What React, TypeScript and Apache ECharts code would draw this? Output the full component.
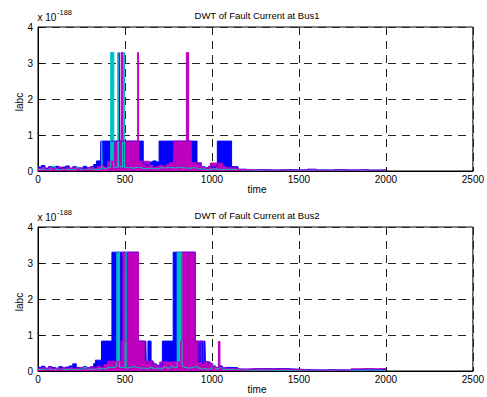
import React, { useEffect, useRef } from "react";
import * as echarts from "echarts";

// Noise samples (units of 1e-188): near arrays every 20 s from 0 to 1100, far arrays every 50 s from 1150 to 2000
const NEAR_STEP = 20;
const FAR_START = 1150;
const FAR_STEP = 50;

const bus1BlueNear = [
  0.11, 0.15, 0.08, 0.12, 0.09, 0.13, 0.07, 0.11, 0.14, 0.08,
  0.12, 0.1, 0.07, 0.13, 0.09, 0.12, 0.18, 0.22, 0.3, 0.28,
  0.32, 0.3, 0.26, 0.3, 0.28, 0.32, 0.3, 0.27, 0.3, 0.25,
  0.2, 0.16, 0.22, 0.28, 0.24, 0.3, 0.26, 0.3, 0.28, 0.3,
  0.25, 0.3, 0.28, 0.26, 0.3, 0.22, 0.17, 0.12, 0.09, 0.13,
  0.1, 0.14, 0.18, 0.2, 0.17, 0.12,
];
const bus1BlueFar = [0.05, 0.03, 0.04, 0.03, 0.02, 0.04, 0.03, 0.03, 0.05, 0.03, 0.02, 0.04, 0.03, 0.03, 0.04, 0.02, 0.03, 0.03];
const bus1TealNear = [
  0.05, 0.06, 0.04, 0.05, 0.12, 0.04, 0.05, 0.06, 0.04, 0.05,
  0.04, 0.1, 0.05, 0.04, 0.06, 0.05, 0.04, 0.05, 0.08, 0.06,
  0.1, 0.08, 0.1, 0.12, 0.1, 0.09, 0.1, 0.08, 0.1, 0.09,
  0.07, 0.06, 0.08, 0.06, 0.07, 0.09, 0.08, 0.1, 0.09, 0.08,
  0.1, 0.09, 0.08, 0.07, 0.09, 0.08, 0.06, 0.05, 0.04, 0.05,
  0.06, 0.05, 0.04, 0.05, 0.04, 0.04,
];
const bus1TealFar = [0.03, 0.02, 0.02, 0.02, 0.03, 0.02, 0.02, 0.02, 0.02, 0.03, 0.02, 0.02, 0.02, 0.02, 0.02, 0.03, 0.02, 0.02];
const bus1MagentaNear = [
  0.07, 0.1, 0.05, 0.09, 0.06, 0.08, 0.11, 0.05, 0.09, 0.07,
  0.1, 0.06, 0.09, 0.05, 0.08, 0.1, 0.07, 0.12, 0.15, 0.1,
  0.2, 0.18, 0.22, 0.2, 0.24, 0.2, 0.18, 0.22, 0.2, 0.16,
  0.14, 0.12, 0.16, 0.1, 0.13, 0.15, 0.12, 0.18, 0.2, 0.17,
  0.2, 0.18, 0.2, 0.16, 0.2, 0.18, 0.14, 0.1, 0.08, 0.12,
  0.15, 0.13, 0.16, 0.12, 0.09, 0.08,
];
const bus1MagentaFar = [0.04, 0.03, 0.03, 0.02, 0.03, 0.03, 0.02, 0.03, 0.04, 0.02, 0.03, 0.03, 0.02, 0.03, 0.03, 0.02, 0.03, 0.02];

const bus2BlueNear = [
  0.1, 0.13, 0.08, 0.12, 0.1, 0.07, 0.12, 0.09, 0.11, 0.14,
  0.2, 0.1, 0.07, 0.12, 0.09, 0.11, 0.2, 0.24, 0.28, 0.3,
  0.3, 0.28, 0.3, 0.26, 0.3, 0.3, 0.28, 0.3, 0.3, 0.26,
  0.22, 0.25, 0.28, 0.2, 0.16, 0.14, 0.12, 0.3, 0.28, 0.3,
  0.3, 0.28, 0.3, 0.26, 0.3, 0.28, 0.25, 0.2, 0.26, 0.22,
  0.12, 0.1, 0.14, 0.08, 0.1, 0.09,
];
const bus2BlueFar = [0.05, 0.06, 0.07, 0.06, 0.07, 0.06, 0.05, 0.04, 0.03, 0.03, 0.04, 0.03, 0.03, 0.04, 0.05, 0.04, 0.03, 0.03];
const bus2TealNear = [
  0.05, 0.04, 0.06, 0.05, 0.04, 0.06, 0.05, 0.04, 0.05, 0.06,
  0.04, 0.05, 0.06, 0.1, 0.05, 0.04, 0.06, 0.05, 0.08, 0.06,
  0.1, 0.1, 0.12, 0.1, 0.1, 0.08, 0.1, 0.12, 0.1, 0.08,
  0.08, 0.06, 0.1, 0.06, 0.08, 0.06, 0.1, 0.08, 0.12, 0.1,
  0.1, 0.12, 0.1, 0.08, 0.1, 0.12, 0.08, 0.06, 0.05, 0.06,
  0.16, 0.06, 0.1, 0.05, 0.04, 0.04,
];
const bus2TealFar = [0.03, 0.02, 0.03, 0.02, 0.02, 0.02, 0.03, 0.02, 0.02, 0.02, 0.02, 0.03, 0.02, 0.02, 0.03, 0.02, 0.02, 0.02];
const bus2MagentaNear = [
  0.07, 0.09, 0.05, 0.1, 0.06, 0.08, 0.05, 0.1, 0.07, 0.09,
  0.06, 0.08, 0.1, 0.05, 0.09, 0.12, 0.08, 0.14, 0.1, 0.18,
  0.22, 0.2, 0.24, 0.2, 0.22, 0.2, 0.18, 0.22, 0.2, 0.24,
  0.2, 0.16, 0.22, 0.18, 0.12, 0.1, 0.14, 0.2, 0.18, 0.22,
  0.2, 0.24, 0.2, 0.22, 0.2, 0.18, 0.2, 0.22, 0.16, 0.14,
  0.12, 0.1, 0.08, 0.1, 0.07, 0.06,
];
const bus2MagentaFar = [0.05, 0.06, 0.06, 0.05, 0.06, 0.05, 0.04, 0.03, 0.03, 0.02, 0.03, 0.03, 0.03, 0.06, 0.07, 0.06, 0.07, 0.06];

// Burst blocks: [start time, end time, level (x1e-188)]
const bus1BlueBlocks = [
  [336, 361, 0.28], [361, 605, 0.83], [466, 470, 3.29], [640, 696, 0.25],
  [696, 914, 0.83], [914, 940, 0.2], [1031, 1113, 0.83],
];
const bus1TealBlocks = [
  [366, 369, 0.83], [418, 436, 3.29], [459, 463, 3.29], [486, 497, 3.29],
];
const bus1MagentaBlocks = [
  [400, 640, 0.27], [444, 577, 0.83], [478, 486, 3.29], [573, 578, 3.29],
  [757, 940, 0.23], [781, 882, 0.83], [853, 866, 3.29], [990, 1060, 0.22],
];

const bus2BlueBlocks = [
  [330, 365, 0.3], [365, 622, 0.83], [632, 650, 0.83], [425, 578, 3.3],
  [650, 715, 0.15], [715, 925, 0.83], [932, 945, 0.83], [952, 962, 0.83],
  [777, 905, 3.3],
];
const bus2TealBlocks = [
  [453, 469, 3.3], [501, 507, 3.3], [800, 828, 3.3], [1000, 1010, 0.15], [1025, 1032, 0.1],
];
const bus2MagentaBlocks = [
  [400, 665, 0.27], [478, 611, 0.83], [488, 500, 3.3], [516, 578, 3.3],
  [700, 990, 0.25], [820, 952, 0.83], [828, 905, 3.3], [990, 1005, 0.2], [1037, 1046, 0.82],
];

const xTicks = [0, 500, 1000, 1500, 2000, 2500];
const yTicks = [0, 1, 2, 3, 4];

const BLUE = "#0000ff";
const TEAL = "#00bfbf";
const MAGENTA = "#bf00bf";
const FONT = "'Liberation Sans', Arial, Helvetica, sans-serif";

function buildSignal(near: number[], far: number[], blocks: number[][]): number[][] {
  const times = new Set<number>();
  near.forEach((_, i) => times.add(i * NEAR_STEP));
  far.forEach((_, i) => times.add(FAR_START + i * FAR_STEP));
  blocks.forEach(([a, b]) => {
    times.add(a);
    times.add(b);
  });
  const sorted = Array.from(times).sort((a, b) => a - b);
  const baseAt = (t: number) => {
    if (t < FAR_START) return near[Math.min(near.length - 1, Math.floor(t / NEAR_STEP))];
    return far[Math.min(far.length - 1, Math.floor((t - FAR_START) / FAR_STEP))];
  };
  return sorted.map((t) => {
    let v = baseAt(t);
    blocks.forEach(([a, b, lv]) => {
      if (t >= a && t < b && lv > v) v = lv;
    });
    return [t, v];
  });
}

function makeSeries(data: number[][], color: string, idx: number) {
  return {
    type: "line",
    xAxisIndex: idx,
    yAxisIndex: idx,
    step: "end",
    symbol: "none",
    silent: true,
    data,
    lineStyle: { color, width: 1 },
    areaStyle: { color, opacity: 1 },
  };
}

function axisCommon(gridIndex: number) {
  return {
    gridIndex,
    axisLine: { lineStyle: { color: "#000", width: 1 } },
    axisTick: { inside: true, length: 4, lineStyle: { color: "#000" } },
    splitLine: { show: true, lineStyle: { color: "#222", width: 1, type: [8, 6] } },
  };
}

export default function App() {
  const ref = useRef<HTMLDivElement>(null);
  useEffect(() => {
    if (!ref.current) return;
    const chart = echarts.init(ref.current, undefined, { renderer: "svg" });
    const titles = ["DWT of Fault Current at Bus1", "DWT of Fault Current at Bus2"];
    const offsets = [0, 200];
    const graphic: any[] = [];
    offsets.forEach((dy, i) => {
      graphic.push(
        { type: "text", x: 257, y: 15 + dy, style: { text: titles[i], font: `9.5px ${FONT}`, fill: "#000", textAlign: "center", textVerticalAlign: "middle" } },
        { type: "text", x: 37.5, y: 17.5 + dy, style: { text: "x 10", font: `10px ${FONT}`, fill: "#000", textAlign: "left", textVerticalAlign: "middle" } },
        { type: "text", x: 57, y: 12 + dy, style: { text: "-188", font: `7.5px ${FONT}`, fill: "#000", textAlign: "left", textVerticalAlign: "middle" } },
        { type: "text", x: 19, y: 102 + dy, rotation: Math.PI / 2, style: { text: "labc", font: `10px ${FONT}`, fill: "#000", textAlign: "center", textVerticalAlign: "middle" } },
        { type: "text", x: 257, y: 189 + dy, style: { text: "time", font: `10px ${FONT}`, fill: "#000", textAlign: "center", textVerticalAlign: "middle" } }
      );
    });
    const plain = (v: number) => String(v);
    chart.setOption({
      animation: false,
      grid: [
        { left: 38, top: 27, width: 439, height: 144, show: true, borderColor: "#000", borderWidth: 1, backgroundColor: "transparent" },
        { left: 38, top: 227, width: 439, height: 144, show: true, borderColor: "#000", borderWidth: 1, backgroundColor: "transparent" },
      ],
      xAxis: [0, 1].map((g) => ({
        ...axisCommon(g),
        type: "value",
        min: xTicks[0],
        max: xTicks[xTicks.length - 1],
        interval: xTicks[1] - xTicks[0],
        axisLabel: { color: "#000", fontSize: 10, fontFamily: FONT, margin: 3, formatter: plain },
      })),
      yAxis: [0, 1].map((g) => ({
        ...axisCommon(g),
        type: "value",
        min: yTicks[0],
        max: yTicks[yTicks.length - 1],
        interval: yTicks[1] - yTicks[0],
        axisLabel: { color: "#000", fontSize: 10, fontFamily: FONT, margin: 5, formatter: plain },
      })),
      series: [
        makeSeries(buildSignal(bus1BlueNear, bus1BlueFar, bus1BlueBlocks), BLUE, 0),
        makeSeries(buildSignal(bus1TealNear, bus1TealFar, bus1TealBlocks), TEAL, 0),
        makeSeries(buildSignal(bus1MagentaNear, bus1MagentaFar, bus1MagentaBlocks), MAGENTA, 0),
        makeSeries(buildSignal(bus2BlueNear, bus2BlueFar, bus2BlueBlocks), BLUE, 1),
        makeSeries(buildSignal(bus2TealNear, bus2TealFar, bus2TealBlocks), TEAL, 1),
        makeSeries(buildSignal(bus2MagentaNear, bus2MagentaFar, bus2MagentaBlocks), MAGENTA, 1),
      ],
      graphic,
    });
    return () => chart.dispose();
  }, []);
  return (
    <div
      ref={ref}
      style={{ position: "fixed", left: 0, top: 0, width: 487, height: 397, background: "#fff" }}
    />
  );
}
